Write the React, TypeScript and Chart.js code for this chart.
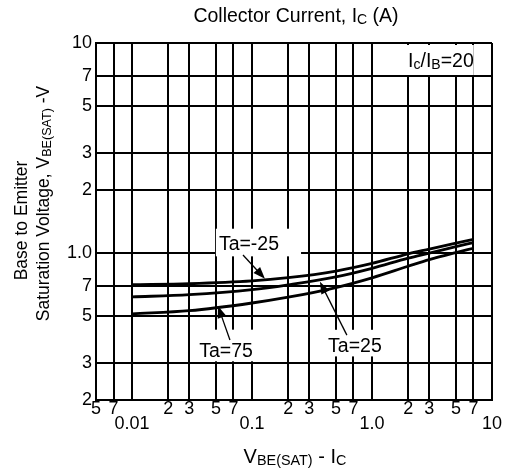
import React, { useEffect, useRef } from "react";
import { Chart, registerables } from "chart.js";

Chart.register(...registerables);

// ---- data ----
const currents = [0.01, 0.03, 0.1, 0.2, 0.5, 1, 2, 3, 5, 7];
const vbeTaMinus25 = [0.707, 0.715, 0.737, 0.764, 0.822, 0.893, 0.993, 1.045, 1.115, 1.163];
const vbeTa25 = [0.619, 0.634, 0.67, 0.707, 0.771, 0.847, 0.946, 1.0, 1.073, 1.123];
const vbeTa75 = [0.514, 0.532, 0.579, 0.617, 0.686, 0.763, 0.866, 0.931, 1.006, 1.055];
const seriesNames = ["Ta=-25", "Ta=25", "Ta=75"];

const xTickValues = [0.005, 0.007, 0.01, 0.02, 0.03, 0.05, 0.07, 0.1, 0.2, 0.3, 0.5, 0.7, 1, 2, 3, 5, 7, 10];
const xTickLabels = ["5", "7", "0.01", "2", "3", "5", "7", "0.1", "2", "3", "5", "7", "1.0", "2", "3", "5", "7", "10"];
const yTickValues = [0.2, 0.3, 0.5, 0.7, 1, 2, 3, 5, 7, 10];
const yTickLabels = ["2", "3", "5", "7", "1.0", "2", "3", "5", "7", "10"];

// curve labels: text anchor, arrow tail, arrow tip (data space)
const labelTextX = [0.0942, 0.72, 0.0606];
const labelTextY = [1.117, 0.365, 0.346];
const arrowTailX = [0.084, 0.617, 0.0654];
const arrowTailY = [0.98, 0.407, 0.386];
const arrowTipX = [0.128, 0.368, 0.052];
const arrowTipY = [0.755, 0.73, 0.56];

const ratioLabelX = 3.75;
const ratioLabelY = 8.3;

const FONT = "'Liberation Sans', Arial, Helvetica, sans-serif";

type Seg = { t: string; sub?: boolean };

const titleTop: Seg[] = [{ t: "Collector Current, I" }, { t: "C", sub: true }, { t: " (A)" }];
const titleX: Seg[] = [{ t: "V" }, { t: "BE(SAT)", sub: true }, { t: " - I" }, { t: "C", sub: true }];
const titleY1: Seg[] = [{ t: "Base to Emitter" }];
const titleY2: Seg[] = [{ t: "Saturation Voltage, V" }, { t: "BE(SAT)", sub: true }, { t: " -V" }];
const ratioText: Seg[] = [{ t: "I" }, { t: "c", sub: true }, { t: "/I" }, { t: "B", sub: true }, { t: "=20" }];

function richWidth(ctx: CanvasRenderingContext2D, segs: Seg[], size: number) {
  let w = 0;
  for (const s of segs) {
    ctx.font = `${s.sub ? size * 0.72 : size}px ${FONT}`;
    w += ctx.measureText(s.t).width;
  }
  return w;
}

function drawRich(ctx: CanvasRenderingContext2D, segs: Seg[], cx: number, baseline: number, size: number) {
  const w = richWidth(ctx, segs, size);
  let x = cx - w / 2;
  ctx.textAlign = "left";
  ctx.textBaseline = "alphabetic";
  ctx.fillStyle = "#000";
  for (const s of segs) {
    const fs = s.sub ? size * 0.72 : size;
    ctx.font = `${fs}px ${FONT}`;
    ctx.fillText(s.t, x, baseline + (s.sub ? size * 0.1 : 0));
    x += ctx.measureText(s.t).width;
  }
}

const LABEL_SIZE = 19.5;
// white box paddings [left, right, top, bottom]
const boxPads = [
  [3, 22, 7, 6],
  [5, 5, 8, 4],
  [3, 3, 13, 4],
];

const decorPlugin = {
  id: "decor",
  beforeDatasetsDraw(chart: any) {
    const ctx: CanvasRenderingContext2D = chart.ctx;
    const xs = chart.scales.x;
    const ys = chart.scales.y;
    ctx.save();
    ctx.fillStyle = "#fff";
    for (let i = 0; i < seriesNames.length; i++) {
      const cx = xs.getPixelForValue(labelTextX[i]);
      const cy = ys.getPixelForValue(labelTextY[i]);
      const w = richWidth(ctx, [{ t: seriesNames[i] }], LABEL_SIZE);
      const h = LABEL_SIZE * 0.75;
      const p = boxPads[i];
      ctx.fillRect(cx - w / 2 - p[0], cy - h / 2 - p[2], w + p[0] + p[1], h + p[2] + p[3]);
    }
    // ratio label box
    const rx = xs.getPixelForValue(ratioLabelX);
    const ry = ys.getPixelForValue(ratioLabelY);
    const rw = richWidth(ctx, ratioText, LABEL_SIZE);
    ctx.fillRect(rx - rw / 2 - 8, ry - 15, rw + 8, 30);
    ctx.restore();
  },
  afterDatasetsDraw(chart: any) {
    const ctx: CanvasRenderingContext2D = chart.ctx;
    const xs = chart.scales.x;
    const ys = chart.scales.y;
    ctx.save();
    for (let i = 0; i < seriesNames.length; i++) {
      const cx = xs.getPixelForValue(labelTextX[i]);
      const cy = ys.getPixelForValue(labelTextY[i]);
      drawRich(ctx, [{ t: seriesNames[i] }], cx, cy + LABEL_SIZE * 0.36, LABEL_SIZE);
      // arrow
      const x0 = xs.getPixelForValue(arrowTailX[i]);
      const y0 = ys.getPixelForValue(arrowTailY[i]);
      const x1 = xs.getPixelForValue(arrowTipX[i]);
      const y1 = ys.getPixelForValue(arrowTipY[i]);
      const ang = Math.atan2(y1 - y0, x1 - x0);
      const L = 12;
      const W = 4.5;
      ctx.strokeStyle = "#000";
      ctx.lineWidth = 1.3;
      ctx.beginPath();
      ctx.moveTo(x0, y0);
      ctx.lineTo(x1 - Math.cos(ang) * L * 0.8, y1 - Math.sin(ang) * L * 0.8);
      ctx.stroke();
      ctx.fillStyle = "#000";
      ctx.beginPath();
      ctx.moveTo(x1, y1);
      ctx.lineTo(x1 - Math.cos(ang) * L - Math.sin(ang) * W, y1 - Math.sin(ang) * L + Math.cos(ang) * W);
      ctx.lineTo(x1 - Math.cos(ang) * L + Math.sin(ang) * W, y1 - Math.sin(ang) * L - Math.cos(ang) * W);
      ctx.closePath();
      ctx.fill();
    }
    const rx = xs.getPixelForValue(ratioLabelX);
    const ry = ys.getPixelForValue(ratioLabelY);
    drawRich(ctx, ratioText, rx, ry + LABEL_SIZE * 0.36, LABEL_SIZE);
    ctx.restore();
  },
  afterDraw(chart: any) {
    const ctx: CanvasRenderingContext2D = chart.ctx;
    const area = chart.chartArea;
    ctx.save();
    const midX = (area.left + area.right) / 2;
    drawRich(ctx, titleTop, midX + 2, 22, 19.5);
    drawRich(ctx, titleX, midX + 1, 463, 20);
    // rotated y titles
    ctx.translate(27, 220.5);
    ctx.rotate(-Math.PI / 2);
    drawRich(ctx, titleY1, 0, 0, 17.5);
    ctx.restore();
    ctx.save();
    ctx.translate(49, 203.5);
    ctx.rotate(-Math.PI / 2);
    drawRich(ctx, titleY2, 0, 0, 17.5);
    ctx.restore();
  },
};

export default function App() {
  const ref = useRef<HTMLCanvasElement>(null);
  useEffect(() => {
    const canvas = ref.current;
    if (!canvas) return;
    const mk = (vals: number[]) => currents.map((x, i) => ({ x, y: vals[i] }));
    const line = (label: string, vals: number[]) => ({
      label,
      data: mk(vals),
      borderColor: "#000",
      backgroundColor: "#000",
      borderWidth: 2.8,
      pointRadius: 0,
      fill: false,
      cubicInterpolationMode: "monotone" as const,
    });
    const chart = new Chart(canvas, {
      type: "line",
      data: {
        datasets: [
          line(seriesNames[0], vbeTaMinus25),
          line(seriesNames[1], vbeTa25),
          line(seriesNames[2], vbeTa75),
        ],
      },
      options: {
        responsive: false,
        animation: false,
        devicePixelRatio: 1,
        layout: { padding: { top: 43, right: 19, left: 0, bottom: 0 } },
        plugins: {
          legend: { display: false },
          tooltip: { enabled: false },
          title: { display: false },
        },
        scales: {
          x: {
            type: "logarithmic",
            position: "bottom",
            min: 0.005,
            max: 10,
            bounds: "data",
            afterBuildTicks: (s: any) => {
              s.ticks = xTickValues.map((v) => ({ value: v }));
            },
            afterFit: (s: any) => {
              s.height = 72;
            },
            grid: { color: "#000", lineWidth: 2, drawTicks: false },
            border: { color: "#000", width: 2 },
            ticks: {
              autoSkip: false,
              maxRotation: 0,
              minRotation: 0,
              padding: 1,
              color: "#000",
              font: { family: FONT, size: 18, lineHeight: 0.85 },
              callback: (v: any, i: number) => {
                const val = xTickValues[i];
                const lg = Math.log10(val);
                const decade = Math.abs(lg - Math.round(lg)) < 1e-9;
                return decade ? ["", xTickLabels[i]] : xTickLabels[i];
              },
            },
          },
          y: {
            type: "logarithmic",
            min: 0.2,
            max: 10,
            bounds: "data",
            afterBuildTicks: (s: any) => {
              s.ticks = yTickValues.map((v) => ({ value: v }));
            },
            afterFit: (s: any) => {
              s.width = 96;
            },
            grid: { color: "#000", lineWidth: 2, drawTicks: false },
            border: { color: "#000", width: 2 },
            ticks: {
              autoSkip: false,
              padding: 4,
              color: "#000",
              font: { family: FONT, size: 18 },
              callback: (v: any, i: number) => yTickLabels[i],
            },
          },
        },
      } as any,
      plugins: [decorPlugin],
    });
    return () => chart.destroy();
  }, []);
  return (
    <div style={{ position: "absolute", left: 0, top: 0, width: 511, height: 472, background: "#fff" }}>
      <canvas ref={ref} width={511} height={472} style={{ display: "block", width: 511, height: 472 }} />
    </div>
  );
}
